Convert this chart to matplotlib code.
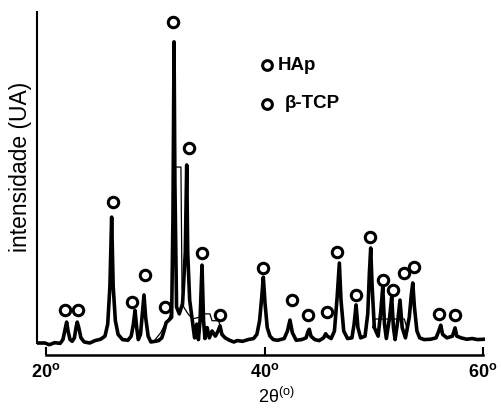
import matplotlib
matplotlib.use('Agg')
import matplotlib.pyplot as plt

plt.rcParams['font.family'] = ['Liberation Sans', 'DejaVu Sans']
plt.rcParams['mathtext.fontset'] = 'custom'
plt.rcParams['mathtext.rm'] = 'Liberation Sans'
plt.rcParams['mathtext.bf'] = 'Liberation Sans:bold'

# difratograma (2theta em graus, intensidade em UA)
two_theta = [19.18, 19.9, 20.3, 20.8, 21.3, 21.55, 21.75, 21.89, 22.02, 22.2, 22.4, 22.6,
             22.75, 22.86, 23.0, 23.2, 23.5, 24.0, 24.5, 25.0, 25.4, 25.65, 25.85, 26.01,
             26.15, 26.35, 26.6, 27.0, 27.5, 27.8, 28.0, 28.15, 28.3, 28.45, 28.65, 28.85,
             28.97, 29.12, 29.35, 29.6, 30.0, 30.3, 30.6, 30.8, 31.0, 31.2, 31.5, 31.62,
             31.72, 31.8, 31.95, 32.2, 32.5, 32.75, 32.88, 32.97, 33.15, 33.4, 33.6, 33.8,
             33.95, 34.1, 34.28, 34.42, 34.55, 34.75, 34.95, 35.2, 35.5, 35.75, 35.93, 36.1,
             36.4, 36.8, 37.2, 37.5, 38.0, 38.5, 39.0, 39.3, 39.55, 39.75, 39.89, 40.05,
             40.25, 40.5, 40.8, 41.2, 41.8, 42.1, 42.33, 42.55, 42.9, 43.4, 43.8, 44.0,
             44.1, 44.25, 44.6, 45.0, 45.4, 45.6, 45.75, 46.1, 46.4, 46.65, 46.85, 47.0,
             47.25, 47.6, 48.0, 48.2, 48.38, 48.55, 48.8, 49.2, 49.45, 49.6, 49.72, 49.85,
             50.05, 50.4, 50.65, 50.82, 50.98, 51.15, 51.45, 51.64, 51.8, 51.95, 52.2, 52.4,
             52.6, 52.9, 53.25, 53.45, 53.57, 53.72, 53.95, 54.2, 54.6, 55.2, 55.7, 55.95,
             56.13, 56.3, 56.7, 57.2, 57.44, 57.6, 58.0, 58.5, 59.0, 59.5, 60.1]
intensity = [3.5, 3.5, 3.0, 3.6, 3.4, 4.5, 7.5, 9.6, 7.0, 4.5, 4.0, 5.0,
             8.0, 9.6, 8.0, 5.0, 3.8, 3.5, 4.2, 4.6, 5.5, 9.0, 20.0, 40.2,
             20.0, 10.0, 6.0, 4.5, 4.3, 5.5, 9.0, 13.0, 8.0, 4.5, 6.0, 13.0,
             17.5, 11.0, 5.5, 3.8, 4.0, 4.2, 5.0, 7.0, 9.5, 10.0, 11.0, 40.0,
             91.3, 50.0, 14.0, 12.0, 15.0, 30.0, 55.4, 30.0, 16.0, 10.0, 5.0, 9.0,
             4.5, 10.0, 26.2, 10.0, 4.8, 8.0, 5.0, 7.0, 5.5, 7.0, 8.5, 6.0,
             5.0, 4.3, 3.8, 4.2, 4.0, 4.5, 4.8, 6.0, 10.0, 17.0, 22.7, 15.0,
             8.0, 5.5, 4.5, 4.3, 4.8, 7.0, 10.2, 6.5, 4.3, 4.5, 5.0, 7.0,
             7.5, 5.5, 4.5, 4.2, 5.0, 6.2, 5.5, 4.8, 7.0, 17.0, 26.8, 16.0,
             7.0, 4.8, 5.0, 9.0, 14.6, 8.0, 5.0, 5.5, 12.0, 24.0, 31.2, 20.0,
             8.0, 5.5, 13.0, 19.8, 9.0, 4.8, 11.0, 16.9, 8.0, 4.5, 10.0, 16.0,
             8.0, 5.0, 11.0, 18.0, 21.0, 14.0, 7.0, 5.0, 4.5, 4.6, 5.0, 7.0,
             8.7, 6.0, 5.0, 5.5, 7.9, 5.5, 5.0, 4.6, 4.8, 4.5, 4.6]

# segundo tracado (linha fina)
thin_a_theta = [30.0, 30.5, 30.9, 31.3, 31.55, 31.7, 31.8, 32.35, 32.45, 32.6, 33.0,
                33.4, 34.0, 34.5, 35.0, 35.2, 35.8, 36.2, 36.6]
thin_a_int = [4.5, 6.5, 9.0, 11.0, 14.0, 50.0, 54.8, 54.8, 20.0, 14.0, 12.0,
              10.5, 11.0, 12.0, 12.0, 10.0, 10.0, 6.0, 4.5]
thin_b_theta = [49.9, 50.1, 51.0, 52.0, 52.8, 53.1]
thin_b_int = [8.0, 10.5, 10.5, 10.5, 10.5, 7.0]

# picos identificados (marcadores "o")
peak_theta = [21.74, 22.96, 26.1, 27.9, 29.06, 30.89, 31.6, 33.12, 34.31, 35.93,
              39.83, 42.49, 44.01, 45.69, 46.67, 48.38, 49.66, 50.88, 51.73, 52.77,
              53.68, 56.0, 57.44]
peak_int = [13.1, 13.1, 44.7, 15.5, 23.3, 14.1, 97.2, 60.3, 29.6, 11.7,
            25.3, 16.0, 11.7, 12.6, 30.1, 17.5, 34.3, 21.9, 19.0, 23.8,
            25.7, 12.1, 11.7]

x_ticks = [20, 40, 60]
x_tick_labels = [r'20$^{\mathbf{o}}$', r'40$^{\mathbf{o}}$', r'60$^{\mathbf{o}}$']

fig = plt.figure(figsize=(5.01, 4.09), dpi=100)
ax = fig.add_axes([0.0739, 0.1320, 0.8946, 0.8386])

ax.plot(two_theta, intensity, color='black', lw=2.6, solid_joinstyle='round')
ax.plot(thin_a_theta, thin_a_int, color='black', lw=0.9)
ax.plot(thin_b_theta, thin_b_int, color='black', lw=0.9)
ax.plot(peak_theta, peak_int, 'o', ls='none', mfc='white', mec='black',
        ms=7.5, mew=2.2)

ax.set_xlim(19.18, 60.2)
ax.set_ylim(0, 100)

for s in ['top', 'right']:
    ax.spines[s].set_visible(False)
ax.spines['left'].set_bounds(3.5, 100)
ax.spines['bottom'].set_bounds(20, 60)
ax.spines['left'].set_linewidth(1.5)
ax.spines['bottom'].set_linewidth(1.8)

ax.set_yticks([])
ax.set_xticks(x_ticks)
ax.set_xticklabels(x_tick_labels, fontsize=13, fontweight='bold')
ax.tick_params(axis='x', direction='in', length=6, width=1.5, pad=6)

ax.set_xlabel(r'2θ$^{(\mathrm{o})}$', fontsize=13)
ax.xaxis.set_label_coords(0.533, -0.093)
ax.set_ylabel('intensidade (UA)', fontsize=16.5)
ax.yaxis.set_label_coords(-0.012, 0.548)

# legenda
ax.plot([0.513], [0.845], 'o', transform=ax.transAxes, mfc='white', mec='black',
        ms=7, mew=2.2)
ax.text(0.537, 0.845, 'HAp', transform=ax.transAxes, fontsize=13.5,
        fontweight='bold', va='center', ha='left')
ax.plot([0.513], [0.732], 'o', transform=ax.transAxes, mfc='white', mec='black',
        ms=7, mew=2.2)
ax.text(0.553, 0.732, 'β-TCP', transform=ax.transAxes, fontsize=13.5,
        fontweight='bold', va='center', ha='left')

fig.savefig('out.png', dpi=100)
